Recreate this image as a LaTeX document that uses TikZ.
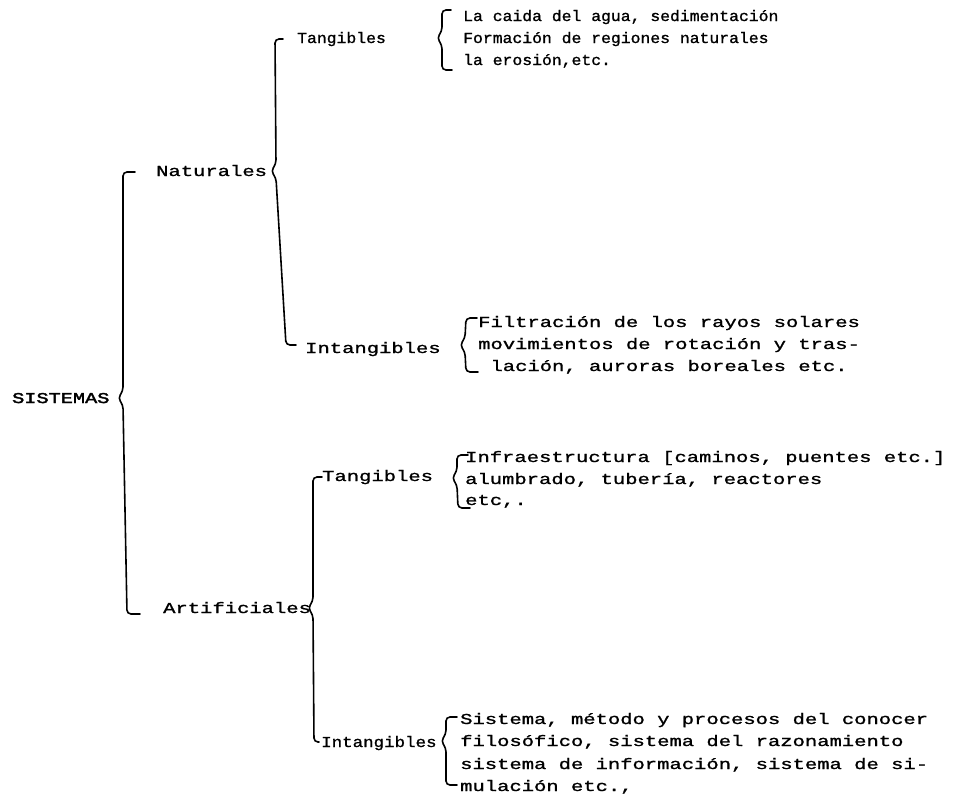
\documentclass[tikz,border=0pt]{standalone}
\usepackage{fontspec}
\newfontfamily\tw[FakeStretch=1.35,FakeBold=1.2]{Liberation Mono}
\newfontfamily\twn[FakeStretch=1.08,FakeBold=1.2]{Liberation Mono}
\newfontfamily\twm[FakeStretch=1.15,FakeBold=1.2]{Liberation Mono}
\newfontfamily\twb[FakeStretch=1.35,FakeBold=2.5]{Liberation Mono}
\newcommand\cbrace[8]{%
  \draw[bracel] (#3,#2) -- (#1,#2) -- (#4,{#5-7}) -- ({#4-5},#5) -- (#4,{#5+7}) -- (#6,#7) -- (#8,#7);}
\tikzset{
  bracel/.style={line width=1.6pt, rounded corners=4pt, line cap=round},
  lbl/.style={anchor=base west, inner sep=0pt, font=\tw\fontsize{15.2}{22}\selectfont},
  small/.style={lbl, font=\twn\fontsize{15.2}{22}\selectfont},
  mid/.style={lbl, font=\twm\fontsize{15.2}{22}\selectfont},
}
\begin{document}
\begin{tikzpicture}[x=1pt,y=-1pt]
\path[use as bounding box, fill=white] (0,0) rectangle (959,806);

% level 0
\node[lbl, font=\twb\fontsize{15}{22}\selectfont] (sis) at (12,403) {SISTEMAS};
\cbrace{123}{172}{135}{123}{398}{127}{614}{140}

% level 1
\node[lbl] (nat) at (156,176) {Naturales};
\node[lbl] (art) at (163,613) {Artificiales};

\cbrace{275}{39}{283}{276}{171}{286}{345}{296}
\cbrace{313}{477}{322}{313}{608}{314}{742}{319}

% level 2
\node[small] (tan1) at (297,43) {Tangibles};
\node[lbl] (int1) at (305,353) {Intangibles};
\node[lbl] (tan2) at (322,481) {Tangibles};
\node[mid] (int2) at (321,747) {Intangibles};

\cbrace{442}{10}{451}{442}{38}{442}{70}{452}
\cbrace{466}{318}{477}{465}{345}{466}{372}{478}
\cbrace{457}{455}{468}{457}{478}{458}{508}{470}
\cbrace{446}{717}{457}{446}{741}{446}{785}{457}

% leaves
\node[small] (a1) at (463,21) {La caida del agua, sedimentación};
\node[small] (a2) at (463,43) {Formación de regiones naturales};
\node[small] (a3) at (463,65) {la erosión,etc.};

\node[lbl] (b1) at (478,327) {Filtración de los rayos solares};
\node[lbl] (b2) at (478,349) {movimientos de rotación y tras-};
\node[lbl] (b3) at (478,371) {\ lación, auroras boreales etc.};

\node[lbl] (c1) at (465,462) {Infraestructura [caminos, puentes etc.]};
\node[lbl] (c2) at (465,484) {alumbrado, tubería, reactores};
\node[lbl] (c3) at (465,505) {etc,.};

\node[lbl] (d1) at (460,724) {Sistema, método y procesos del conocer};
\node[lbl] (d2) at (460,746) {filosófico, sistema del razonamiento};
\node[lbl] (d3) at (460,769) {sistema de información, sistema de si-};
\node[lbl] (d4) at (460,791) {mulación etc.,};
\end{tikzpicture}
\end{document}
